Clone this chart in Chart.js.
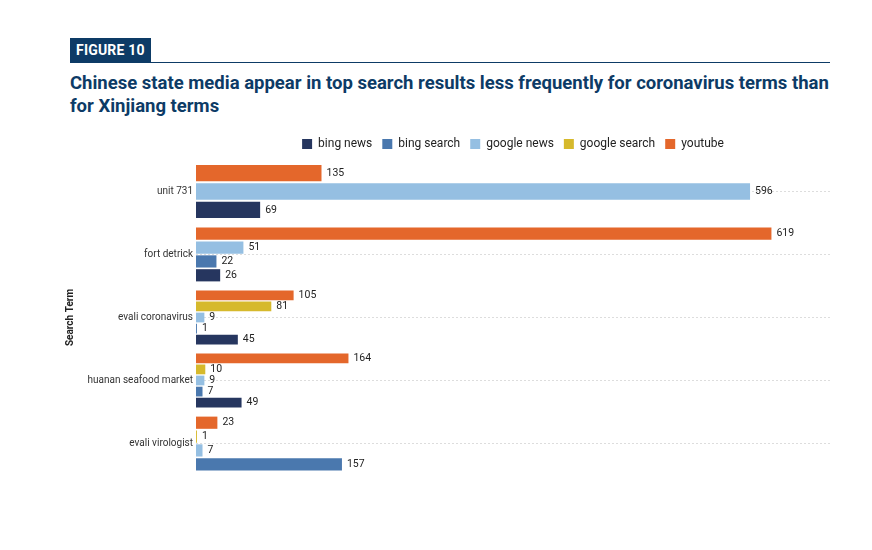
<!DOCTYPE html>
<html>
<head>
<meta charset="utf-8">
<script src="https://cdn.jsdelivr.net/npm/chart.js@4"></script>
<style>
  body { margin: 0; background: #fff; font-family: Roboto, "Noto Sans", sans-serif; }
  #page { position: relative; width: 872px; height: 550px; }
  #badge { position: absolute; left: 70px; top: 38px; background: #0d3b66; color: #fff;
           font-weight: 700; font-size: 14px; padding: 4px 6px; letter-spacing: 0.2px; }
  #rule { position: absolute; left: 70px; top: 62px; width: 760px; height: 1px; background: #0d3b66; }
  #title { position: absolute; left: 70px; top: 72px; width: 780px; color: #0d3b66;
           font-weight: 700; font-size: 18.5px; line-height: 23px; }
  #wrap { position: absolute; left: 0; top: 128px; width: 872px; height: 356px; }
</style>
</head>
<body>
<div id="page">
  <div id="badge">FIGURE 10</div>
  <div id="rule"></div>
  <div id="title">Chinese state media appear in top search results less frequently for coronavirus terms than for Xinjiang terms</div>
  <div id="wrap"><canvas id="c"></canvas></div>
</div>
<script>
// search terms and counts per source (null = no bar)
const terms = ['unit 731', 'fort detrick', 'evali coronavirus', 'huanan seafood market', 'evali virologist'];
const youtube = [135, 619, 105, 164, 23];
const googleSearch = [null, null, 81, 10, 1];
const googleNews = [596, 51, 9, 9, 7];
const bingSearch = [null, 22, 1, 7, 157];
const bingNews = [69, 26, 45, 49, null];

const valueLabels = {
    id: 'valueLabels',
    afterDatasetsDraw(chart) {
        const ctx = chart.ctx;
        ctx.save();
        ctx.font = '10.5px Roboto';
        ctx.fillStyle = '#222';
        ctx.textBaseline = 'middle';
        chart.data.datasets.forEach((ds, i) => {
            chart.getDatasetMeta(i).data.forEach((bar, j) => {
                if (ds.data[j] === null) return;
                ctx.fillText(ds.data[j], bar.x + 5, bar.y);
            });
        });
        ctx.restore();
    }
};

new Chart(document.getElementById('c'), {
    type: 'bar',
    data: {
        labels: terms,
        datasets: [
            { label: 'youtube', data: youtube, backgroundColor: '#e4672b' },
            { label: 'google search', data: googleSearch, backgroundColor: '#d6b92c' },
            { label: 'google news', data: googleNews, backgroundColor: '#95bfe2' },
            { label: 'bing search', data: bingSearch, backgroundColor: '#4a78ae' },
            { label: 'bing news', data: bingNews, backgroundColor: '#26365f' }
        ]
    },
    options: {
        indexAxis: 'y',
        responsive: true,
        maintainAspectRatio: false,
        animation: false,
        skipNull: true,
        categoryPercentage: 0.88,
        barPercentage: 0.88,
        layout: { padding: { left: 60, right: 42, top: 0, bottom: 0 } },
        plugins: {
            legend: {
                position: 'top',
                reverse: true,
                fullSize: false,
                labels: {
                    boxWidth: 10, boxHeight: 10, padding: 10,
                    color: '#222', font: { family: 'Roboto', size: 12 }
                }
            },
            tooltip: { enabled: false }
        },
        scales: {
            x: { min: 0, max: 682, display: false },
            y: {
                afterFit: s => { s.width = 136; },
                title: { display: true, text: 'Search Term', color: '#222',
                         font: { family: 'Roboto', size: 10, weight: 'bold' } },
                ticks: { color: '#333', font: { family: 'Roboto', size: 10 } },
                grid: { offset: false, color: '#ddd', borderDash: [2, 2], drawTicks: false },
                border: { display: false, dash: [2, 2] }
            }
        }
    },
    plugins: [valueLabels]
});
</script>
</body>
</html>
